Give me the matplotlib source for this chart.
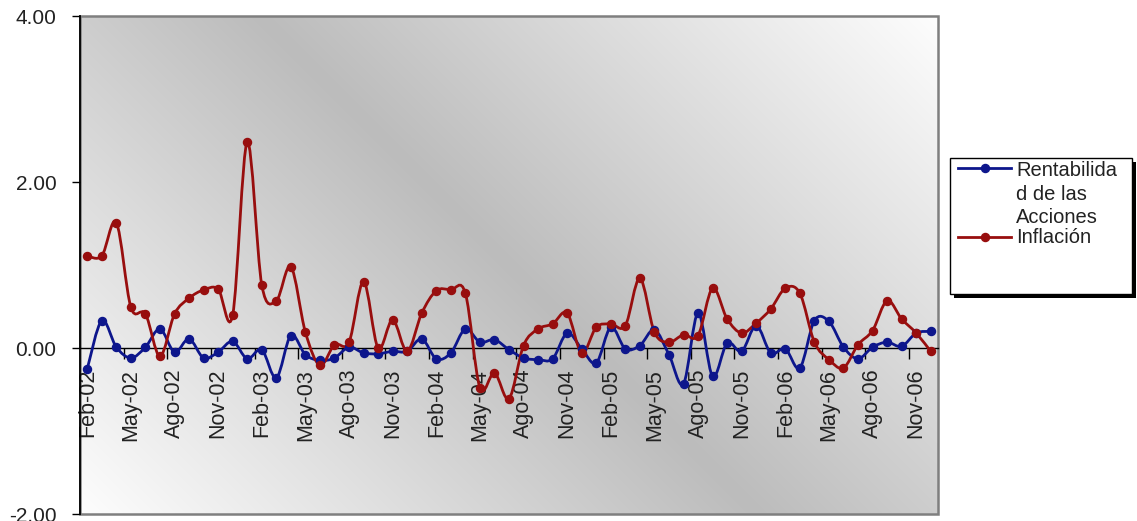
import numpy as np
import matplotlib
matplotlib.use("Agg")
import matplotlib.pyplot as plt
from matplotlib.path import Path
from matplotlib.patches import PathPatch, Rectangle
from matplotlib.lines import Line2D

plt.rcParams["font.family"] = ["Liberation Sans", "DejaVu Sans"]

# monthly categories Feb-02 .. Dic-06
month_names = ["Ene", "Feb", "Mar", "Abr", "May", "Jun",
               "Jul", "Ago", "Sep", "Oct", "Nov", "Dic"]
months = [f"{month_names[m % 12]}-{2 + m // 12:02d}" for m in range(1, 60)]

rentabilidad = [
    -0.25, 0.33, 0.01, -0.12, 0.01, 0.23, -0.05, 0.11, -0.12, -0.05,
    0.08, -0.13, -0.02, -0.36, 0.15, -0.08, -0.15, -0.12, 0.01, -0.06,
    -0.07, -0.04, -0.04, 0.11, -0.13, -0.06, 0.23, 0.07, 0.10, -0.02,
    -0.12, -0.14, -0.13, 0.18, -0.01, -0.18, 0.25, -0.01, 0.03, 0.22,
    -0.08, -0.43, 0.42, -0.34, 0.06, -0.04, 0.27, -0.06, -0.01, -0.24,
    0.33, 0.32, 0.01, -0.13, 0.01, 0.07, 0.02, 0.18, 0.20,
]
inflacion = [
    1.11, 1.11, 1.51, 0.49, 0.41, -0.10, 0.41, 0.60, 0.70, 0.71,
    0.40, 2.48, 0.76, 0.57, 0.98, 0.19, -0.21, 0.04, 0.07, 0.80,
    0.00, 0.34, -0.04, 0.42, 0.69, 0.70, 0.66, -0.48, -0.30, -0.61,
    0.03, 0.23, 0.29, 0.42, -0.06, 0.25, 0.29, 0.27, 0.84, 0.19,
    0.07, 0.16, 0.15, 0.72, 0.35, 0.18, 0.30, 0.47, 0.72, 0.66,
    0.07, -0.14, -0.24, 0.04, 0.21, 0.57, 0.35, 0.18, -0.04,
]

BLUE = "#0d168c"
RED = "#980e0e"
W, H = 1137, 521
PW, PH = 858, 498  # plot area size in pixels


def fig_xy(x, y):
    # pixel position (from top-left) to figure fraction
    return x / W, 1 - y / H


def smooth_path(x, y):
    # cubic bezier through every point, excel-style smoothing
    pts = np.column_stack([x, y]).astype(float)
    n = len(pts)
    verts = [pts[0]]
    codes = [Path.MOVETO]
    for i in range(n - 1):
        p0 = pts[max(i - 1, 0)]
        p1 = pts[i]
        p2 = pts[i + 1]
        p3 = pts[min(i + 2, n - 1)]
        c1 = p1 + (p2 - p0) / 6
        c2 = p2 - (p3 - p1) / 6
        verts += [c1, c2, p2]
        codes += [Path.CURVE4] * 3
    return Path(verts, codes)


fig = plt.figure(figsize=(W / 100, H / 100), dpi=100)
rect = [80 / W, 1 - 514 / H, PW / W, PH / H]

# diagonal gradient behind the plot area: gray band top-left -> bottom-right
bg = fig.add_axes(rect, zorder=0)
gx, gy = np.meshgrid(np.linspace(0, PW, 500), np.linspace(0, PH, 300))
dist = np.abs(gx - (PH - gy) - (PW - PH) / 2)
shade = np.clip((188 + 0.096 * dist) / 255, 0, 1)
bg.imshow(np.dstack([shade, shade, shade]), extent=[0, 1, 0, 1],
          origin="lower", aspect="auto", interpolation="bilinear")
bg.axis("off")

ax = fig.add_axes(rect, zorder=1)
ax.patch.set_alpha(0)
x = np.arange(len(months))

for vals, col in [(rentabilidad, BLUE), (inflacion, RED)]:
    ax.add_patch(PathPatch(smooth_path(x, vals), facecolor="none",
                           edgecolor=col, lw=2.0, zorder=3))
    ax.plot(x, vals, "o", color=col, markersize=5.8, zorder=4)

ax.set_xlim(-0.5, len(months) - 0.5)
ax.set_ylim(-2, 4)

ax.set_yticks([-2, 0, 2, 4])
ax.set_yticklabels([f"{v:.2f}" for v in [-2, 0, 2, 4]])
ax.tick_params(axis="y", length=6, width=1, pad=11, labelsize=15,
               labelcolor="#222222")

ax.set_xticks(x[::3])
ax.set_xticklabels(months[::3])
ax.set_xticks(np.arange(2.5, len(months) - 1, 3), minor=True)
ax.tick_params(axis="x", which="major", length=0, pad=15, labelsize=15.5,
               labelrotation=90, labelcolor="#222222")
ax.tick_params(axis="x", which="minor", length=8, width=1, direction="out")

for side in ["top", "right"]:
    ax.spines[side].set_visible(False)
ax.spines["bottom"].set_position(("data", 0))
ax.spines["bottom"].set_linewidth(1.0)
ax.spines["left"].set_linewidth(1.3)
ax.add_patch(Rectangle((0, 0), 1, 1, transform=ax.transAxes, fill=False,
                       ec="#7f7f7f", lw=1.8, clip_on=False, zorder=0.5))

# legend box with shadow
x0, y0 = fig_xy(950, 294)
x1, y1 = fig_xy(1132, 158)
sx, sy = fig_xy(954, 298)
fig.add_artist(Rectangle((sx, sy), x1 - x0, y1 - y0, transform=fig.transFigure,
                         facecolor="black", edgecolor="none"))
fig.add_artist(Rectangle((x0, y0), x1 - x0, y1 - y0, transform=fig.transFigure,
                         facecolor="white", edgecolor="black", lw=1))

for ly, col in [(168, BLUE), (237, RED)]:
    lx0, yy = fig_xy(958, ly)
    lx1, _ = fig_xy(1011, ly)
    mx, _ = fig_xy(985, ly)
    fig.add_artist(Line2D([lx0, lx1], [yy, yy], color=col, lw=2.0,
                          transform=fig.transFigure))
    fig.add_artist(Line2D([mx], [yy], marker="o", color=col, markersize=5.8,
                          transform=fig.transFigure))

for txt, by in [("Rentabilida", 176), ("d de las", 200), ("Acciones", 223),
                ("Inflación", 243)]:
    tx, ty = fig_xy(1016, by)
    fig.text(tx, ty, txt, fontsize=14.5, va="baseline", ha="left",
             color="#222222")

fig.savefig("out.png", dpi=100)
